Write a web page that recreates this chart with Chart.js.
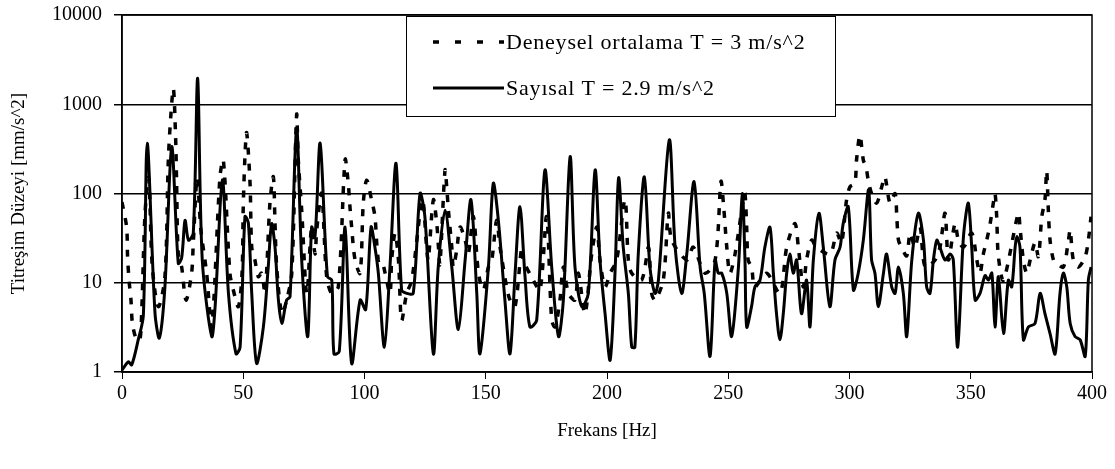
<!DOCTYPE html>
<html>
<head>
<meta charset="utf-8">
<script src="https://cdn.jsdelivr.net/npm/chart.js@4.4.1/dist/chart.umd.min.js"></script>
<style>
  html, body { margin: 0; padding: 0; background: #fff; }
  #wrap { width: 1115px; height: 469px; }
</style>
</head>
<body>
<div id="wrap"><canvas id="chart" width="1115" height="469"></canvas></div>
<script>
// ---- data ----
const yTicks = [1, 10, 100, 1000, 10000];

// Deneysel ortalama (dashed)
const deneyselHz = [
  0, 1.9, 2.3, 2.9, 3.7, 4.3, 6.0, 7.4, 8.1, 9.5,
  11.0, 12.5, 15.0, 17.7, 19.1, 20.2, 21.2, 22.1, 22.5, 23.2,
  24.6, 26.4, 28.7, 29.4, 31.0, 32.5, 34.9, 37.0, 40.4, 41.8,
  44.5, 45.9, 48.0, 49.5, 50.0, 50.7, 51.4, 52.8, 53.5, 54.8,
  56.2, 57.6, 59.0, 61.0, 62.4, 63.1, 63.8, 65.9, 67.9, 70.0,
  72.0, 72.7, 74.1, 76.2, 78.2, 79.6, 80.3, 82.3, 84.4, 86.5,
  89.2, 92.0, 93.3, 94.0, 94.7, 96.1, 98.2, 99.5, 100.9, 102.9,
  104.3, 105.7, 107.1, 108.5, 110.5, 111.2, 112.6, 114.0, 115.3, 117.4,
  119.5, 123.6, 124.3, 125.6, 126.3, 128.4, 129.8, 130.5, 131.1, 133.2,
  133.9, 134.6, 136.0, 136.6, 138.0, 139.4, 141.5, 142.8, 144.9, 147.0,
  149.0, 151.1, 152.5, 154.5, 155.9, 158.6, 160.0, 162.1, 164.8, 165.5,
  169.6, 172.4, 175.1, 177.2, 178.6, 180.6, 182.0, 184.1, 186.8, 188.2,
  190.9, 193.7, 195.8, 197.1, 199.2, 201.3, 204.0, 207.4, 208.8, 210.2,
  214.3, 217.1, 218.4, 219.8, 223.2, 225.3, 226.7, 232.9, 235.6, 240.4,
  244.6, 247.0, 248.0, 249.4, 250.7, 252.8, 256.2, 256.9, 257.6, 258.2,
  259.6, 261.0, 265.8, 271.3, 274.1, 277.5, 278.9, 280.9, 282.3, 284.4,
  286.4, 292.0, 294.7, 296.7, 298.8, 300.2, 302.2, 302.9, 304.3, 305.7,
  306.8, 307.7, 309.1, 311.2, 313.3, 314.6, 316.7, 318.8, 319.5, 320.2,
  321.5, 323.6, 325.0, 327.0, 329.1, 331.2, 335.3, 337.3, 339.4, 340.8,
  343.5, 344.9, 347.0, 350.4, 352.5, 353.8, 355.2, 356.6, 358.0, 359.3,
  360.0, 360.7, 361.4, 363.5, 369.6, 370.3, 371.7, 373.1, 374.5, 376.5,
  377.9, 379.3, 380.6, 381.3, 382.0, 382.7, 384.1, 385.5, 388.2, 390.3,
  391.0, 392.3, 394.4, 397.2, 398.5, 399.6
];
const deneyselVal = [
  80, 42, 19.6, 10.7, 6.4, 3.5, 2.3, 2.3, 4.5, 60,
  150, 15, 5.4, 11.7, 237, 790, 1500, 432, 142, 21,
  15, 6.4, 12.8, 28, 150, 40, 12.8, 3.2, 154, 237,
  12.8, 8.3, 5.4, 12.8, 71, 260, 480, 130, 25, 18,
  11.7, 12.8, 7.6, 78, 154, 46, 15, 4.5, 6.4, 12.8,
  760, 237, 65, 7.6, 42, 21, 39, 100, 11.7, 7.6,
  9, 240, 130, 71, 42, 18, 12.8, 78, 141, 85,
  55, 18, 18, 12.8, 7.6, 18, 36, 18, 3.8, 7.6,
  10.7, 85, 78, 25, 18, 85, 46, 25, 16, 183,
  119, 65, 25, 15, 23, 42, 30, 21, 55, 12.8,
  8.3, 15, 18, 50, 25, 9, 6.4, 5.4, 25, 18,
  10.7, 8.3, 55, 3.8, 3.2, 6.4, 15, 7.6, 6.4, 12.8,
  4.5, 21, 42, 18, 9, 12.8, 18, 85, 18, 12.8,
  10.7, 25, 7.6, 6.4, 10.7, 60, 30, 18, 25, 12.8,
  18, 136, 78, 25, 12.8, 21, 85, 100, 42, 18,
  15, 9, 12.8, 7.6, 25, 46, 25, 9, 18, 30,
  25, 21, 36, 28, 85, 119, 130, 237, 450, 237,
  200, 142, 100, 78, 119, 154, 78, 100, 55, 30,
  25, 20, 36, 25, 42, 15, 18, 25, 60, 18,
  46, 30, 25, 36, 18, 12.8, 21, 30, 46, 78,
  100, 55, 19.6, 10.7, 60, 42, 18, 12.8, 18, 28,
  19.6, 55, 85, 180, 65, 30, 18, 16.5, 15, 30,
  39, 18, 15, 19.6, 30, 55
];

// Sayısal (solid)
const sayisalHz = [
  0, 2.6, 4.0, 6.7, 8.8, 10.4, 13.6, 15.4, 17.7, 20.5,
  23.2, 24.6, 26.0, 27.4, 29.4, 31.2, 33.1, 37.0, 38.4, 41.4,
  43.9, 47.0, 48.7, 50.7, 52.1, 53.5, 55.5, 58.3, 60.3, 61.7,
  63.1, 64.5, 65.9, 67.9, 69.3, 72.0, 74.1, 76.6, 78.2, 79.6,
  81.7, 84.7, 86.5, 87.4, 89.6, 92.0, 94.7, 98.2, 100.5, 102.7,
  104.3, 105.7, 108.2, 110.5, 113.0, 115.3, 117.4, 120.1, 122.9, 124.9,
  128.4, 130.4, 133.2, 136.0, 138.7, 141.5, 143.9, 146.3, 147.6, 151.1,
  153.1, 155.2, 157.9, 160.0, 162.1, 164.1, 166.2, 168.2, 171.0, 174.4,
  177.2, 180.0, 182.0, 184.8, 186.8, 189.6, 192.3, 195.1, 197.1, 199.2,
  201.3, 203.3, 204.8, 206.7, 208.8, 210.2, 211.5, 212.9, 215.4, 217.7,
  219.8, 221.2, 225.7, 228.1, 230.8, 232.9, 235.9, 238.4, 240.1, 242.5,
  244.6, 245.9, 247.3, 249.4, 251.4, 254.2, 255.8, 256.9, 257.6, 259.6,
  261.0, 263.1, 265.1, 267.2, 268.6, 269.9, 271.3, 272.7, 274.1, 275.4,
  276.8, 278.2, 280.2, 282.3, 283.7, 285.1, 287.4, 289.2, 291.9, 294.0,
  296.1, 297.4, 299.5, 301.6, 303.6, 305.7, 307.9, 309.1, 310.5, 311.9,
  314.0, 315.3, 317.4, 318.8, 320.2, 322.2, 323.6, 325.7, 328.4, 330.5,
  331.8, 333.2, 334.6, 336.0, 337.3, 339.4, 341.5, 342.8, 344.6, 347.0,
  349.0, 350.4, 351.8, 353.8, 355.9, 357.3, 358.7, 360.0, 361.4, 363.5,
  365.5, 366.9, 368.3, 369.0, 370.3, 371.7, 373.8, 376.5, 378.6, 380.6,
  382.7, 384.8, 386.8, 388.2, 389.6, 391.0, 393.0, 395.1, 397.2, 398.5,
  399.6
];
const sayisalVal = [
  1.05, 1.3, 1.2, 2.3, 4.3, 365, 4.6, 2.4, 9, 335,
  16.5, 19, 50, 30, 36, 1950, 18, 2.5, 5.4, 142,
  7.6, 1.6, 1.9, 55, 47, 7.6, 1.25, 3.2, 15, 46,
  25, 6.4, 3.5, 6.4, 7, 537, 18, 2.5, 42, 33,
  365, 11.7, 10.7, 1.6, 1.7, 42, 1.25, 6.4, 5, 42,
  25, 12.8, 1.9, 15, 218, 8.3, 7.6, 7.6, 100, 55,
  1.6, 15, 65, 15, 3.0, 18, 85, 7.6, 1.6, 15,
  130, 50, 6.4, 1.6, 12.8, 71, 11.7, 3.2, 3.8, 183,
  15, 2.5, 6.4, 258, 15, 5.4, 7.6, 183, 18, 4.5,
  1.36, 12.8, 150, 25, 7.6, 1.9, 1.9, 21, 154, 15,
  7.6, 10.7, 398, 25, 7.6, 21, 136, 15, 7.6, 1.5,
  18, 12.8, 12.8, 7.6, 2.5, 15, 100, 18, 3.2, 5.4,
  9, 10.7, 25, 42, 12.8, 4.5, 2.3, 4.5, 12.8, 21,
  12.8, 18, 4.5, 10.7, 3.2, 18, 60, 25, 5.4, 18,
  25, 46, 71, 8.3, 12.8, 30, 110, 18, 12.8, 5.4,
  12.8, 21, 9, 7.6, 15, 7.6, 2.5, 18, 60, 30,
  9, 7.6, 18, 30, 25, 18, 21, 18, 1.9, 33,
  78, 25, 6.4, 7.6, 12, 10.7, 12.8, 3.2, 11.7, 2.7,
  10.7, 9, 25, 33, 25, 2.3, 3.2, 3.5, 7.6, 4.5,
  2.7, 1.6, 7.6, 12.8, 9, 3.5, 2.5, 2.3, 1.5, 10.7,
  15
];

const serif = "'Liberation Serif', 'Times New Roman', serif";

function toPoints(xs, ys) {
  return xs.map((x, i) => ({ x: x, y: ys[i] }));
}

// plot area border
const frame = {
  id: 'frame',
  afterDatasetsDraw(chart) {
    const { ctx, chartArea: a } = chart;
    ctx.save();
    ctx.strokeStyle = '#000';
    ctx.lineWidth = 1.5;
    ctx.strokeRect(a.left, a.top, a.right - a.left, a.bottom - a.top);
    ctx.restore();
  }
};

// legend box inside the plot, like the original
const boxLegend = {
  id: 'boxLegend',
  afterDraw(chart) {
    const { ctx, chartArea: a } = chart;
    const bx = a.left + 284, by = a.top + 1, bw = 429, bh = 100;
    ctx.save();
    ctx.fillStyle = '#fff';
    ctx.fillRect(bx, by, bw, bh);
    ctx.strokeStyle = '#000';
    ctx.lineWidth = 1;
    ctx.strokeRect(bx + 0.5, by + 0.5, bw, bh);
    ctx.font = '22px ' + serif;
    if ('letterSpacing' in ctx) ctx.letterSpacing = '0.8px';
    ctx.textBaseline = 'middle';
    chart.data.datasets.forEach((ds, i) => {
      const y = by + 26 + i * 46;
      ctx.strokeStyle = ds.borderColor;
      ctx.lineWidth = ds.borderWidth;
      ctx.setLineDash(ds.legendDash || []);
      ctx.beginPath();
      ctx.moveTo(bx + 27, y);
      ctx.lineTo(bx + 98, y);
      ctx.stroke();
      ctx.setLineDash([]);
      ctx.fillStyle = '#000';
      ctx.fillText(ds.label, bx + 100, y + 1);
    });
    ctx.restore();
  }
};

new Chart(document.getElementById('chart'), {
  type: 'line',
  data: {
    datasets: [
      {
        label: 'Deneysel ortalama T = 3 m/s^2',
        data: toPoints(deneyselHz, deneyselVal),
        borderColor: '#000',
        borderWidth: 3.5,
        borderDash: [7, 9],
        legendDash: [6, 16],
        pointRadius: 0,
        tension: 0.3,
        order: 1
      },
      {
        label: 'Sayısal T = 2.9 m/s^2',
        data: toPoints(sayisalHz, sayisalVal),
        borderColor: '#000',
        borderWidth: 3,
        pointRadius: 0,
        tension: 0.3,
        order: 0
      }
    ]
  },
  options: {
    responsive: false,
    animation: false,
    devicePixelRatio: 1,
    layout: { padding: { left: 0, right: 23, top: 15, bottom: 0 } },
    plugins: {
      legend: { display: false },
      tooltip: { enabled: false }
    },
    scales: {
      x: {
        type: 'linear',
        min: 0, max: 400,
        ticks: { stepSize: 50, color: '#000', font: { family: serif, size: 20 }, padding: 3, maxRotation: 0 },
        grid: { drawOnChartArea: false, color: '#000', lineWidth: 1, tickLength: 7 },
        border: { color: '#000', width: 1.5 },
        title: { display: true, text: 'Frekans [Hz]', color: '#000', font: { family: serif, size: 19 }, padding: { top: 0, bottom: 27 } },
        afterFit: s => { s.height = 97; }
      },
      y: {
        type: 'logarithmic',
        min: 1, max: 10000,
        afterBuildTicks: s => { s.ticks = yTicks.map(v => ({ value: v })); },
        ticks: { color: '#000', font: { family: serif, size: 20 }, padding: 12, callback: v => String(v) },
        grid: { color: '#000', lineWidth: 1.5, tickLength: 8 },
        border: { color: '#000', width: 1.5 },
        title: { display: true, text: 'Titreşim Düzeyi [mm/s^2]', color: '#000', font: { family: serif, size: 19 }, padding: { top: 8, bottom: 0 } },
        afterFit: s => { s.width = 122; s.paddingTop = 0; s.paddingBottom = 0; }
      }
    }
  },
  plugins: [frame, boxLegend]
});
</script>
</body>
</html>
